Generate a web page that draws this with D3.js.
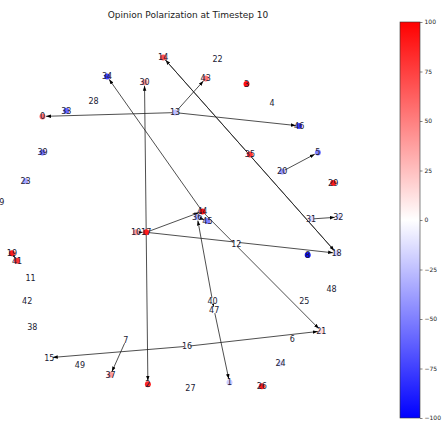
<!DOCTYPE html>
<html><head><meta charset="utf-8">
<script src="https://cdn.jsdelivr.net/npm/d3@7"></script>
<style>body{margin:0;background:#fff}svg{display:block}</style>
</head><body>
<svg id="chart" width="442" height="422"></svg>
<script>
const title = "Opinion Polarization at Timestep 10";
const nodeIds = d3.range(50);
const layoutX = [-0.75,0.35,-0.13,0.45,0.60,0.87,0.72,-0.26,0.81,-0.99,
  -0.20,-0.82,0.39,0.03,-0.04,-0.71,0.10,-0.14,0.98,-0.93,
  0.66,0.89,0.28,-0.85,0.65,0.79,0.54,0.12,-0.45,0.96,
  -0.15,0.83,0.99,-0.61,-0.37,0.47,0.16,-0.35,-0.81,-0.75,
  0.25,-0.90,-0.84,0.21,0.19,0.22,0.76,0.26,0.95,-0.53];
const layoutY = [0.44,-0.96,-0.97,0.61,0.51,0.25,-0.73,-0.74,-0.29,-0.01,
  -0.17,-0.41,-0.23,0.46,0.75,-0.83,-0.77,-0.17,-0.28,-0.28,
  0.15,-0.69,0.74,0.10,-0.86,-0.53,-0.98,-0.99,0.52,0.09,
  0.62,-0.10,-0.09,0.47,0.65,0.24,-0.09,-0.92,-0.67,0.25,
  -0.53,-0.32,-0.53,0.64,-0.06,-0.11,0.39,-0.58,-0.47,-0.87];
const opinions = [55,-20,85,95,0,-50,0,0,-95,0,
  40,0,0,-25,70,0,0,90,-20,90,
  -40,15,0,-35,-15,0,90,0,0,90,
  40,-15,-15,-60,-75,80,-30,40,0,-55,
  0,80,0,55,95,-50,-75,0,0,0];
const edgeSource = [13,13,13,44,18,14,17,17,17,17,10,44,36,47,40,40,20,31,16,16,7,19];
const edgeTarget = [0,43,46,34,14,18,30,2,44,18,17,21,45,1,36,47,5,32,15,21,37,41];
const cbTicks = [100,75,50,25,0,-25,-50,-75,-100];

const svg = d3.select("#chart");
const x = d3.scaleLinear().domain([-1,1]).range([0,340]);
const y = d3.scaleLinear().domain([-1,1]).range([390,10]);
const color = d3.scaleLinear().domain([-100,0,100]).range(["#0000ff","#ffffff","#ff0000"]);
const r = 3;

svg.append("text").attr("x",188).attr("y",18).attr("text-anchor","middle")
  .attr("font-family","DejaVu Sans").attr("font-size",9).attr("fill","#222").text(title);

const defs = svg.append("defs");
defs.append("marker").attr("id","arr").attr("viewBox","0 0 10 10")
  .attr("refX",10).attr("refY",5).attr("markerWidth",5).attr("markerHeight",5)
  .attr("markerUnits","userSpaceOnUse").attr("orient","auto")
  .append("path").attr("d","M0,1.5L10,5L0,8.5Z").attr("fill","#000");

const edges = edgeSource.map((s,i)=>({s, t: edgeTarget[i]}));
svg.append("g").selectAll("line").data(edges).join("line")
  .each(function(d){
    const x1=x(layoutX[d.s]), y1=y(layoutY[d.s]), x2=x(layoutX[d.t]), y2=y(layoutY[d.t]);
    const L=Math.hypot(x2-x1,y2-y1)||1, ux=(x2-x1)/L, uy=(y2-y1)/L;
    d3.select(this).attr("x1",x1+ux*1).attr("y1",y1+uy*1)
      .attr("x2",x2-ux*(r+0.5)).attr("y2",y2-uy*(r+0.5));
  })
  .attr("stroke","#222").attr("stroke-width",0.8).attr("marker-end","url(#arr)");

svg.append("g").selectAll("circle").data(nodeIds).join("circle")
  .attr("cx",d=>x(layoutX[d])).attr("cy",d=>y(layoutY[d])).attr("r",r)
  .attr("fill",d=>color(opinions[d]));

svg.append("g").selectAll("text").data(nodeIds).join("text")
  .attr("x",d=>x(layoutX[d])).attr("y",d=>y(layoutY[d])).attr("dy","0.35em")
  .attr("text-anchor","middle").attr("font-family","DejaVu Sans").attr("font-size",8)
  .attr("fill","#1a1a33").text(d=>d);

// colorbar
const cb = svg.append("g");
const cy = d3.scaleLinear().domain([-100,100]).range([418,22]);
const grad = defs.append("linearGradient").attr("id","cbg").attr("x1",0).attr("y1",1).attr("x2",0).attr("y2",0);
[-100,0,100].forEach(v=>grad.append("stop").attr("offset",(v+100)/200).attr("stop-color",color(v)));
cb.append("rect").attr("x",400).attr("y",22).attr("width",20).attr("height",396)
  .attr("fill","url(#cbg)").attr("stroke","#333").attr("stroke-width",0.6);
const ax = cb.append("g").attr("transform","translate(420,0)")
  .call(d3.axisRight(cy).tickValues(cbTicks).tickSize(2.5).tickPadding(2)
    .tickFormat(d=>d<0?"\u2212"+Math.abs(d):d));
ax.select(".domain").remove();
ax.selectAll("text").attr("font-family","DejaVu Sans").attr("font-size",6).attr("fill","#222");
ax.selectAll("line").attr("stroke","#333").attr("stroke-width",0.6);
</script>
</body></html>
